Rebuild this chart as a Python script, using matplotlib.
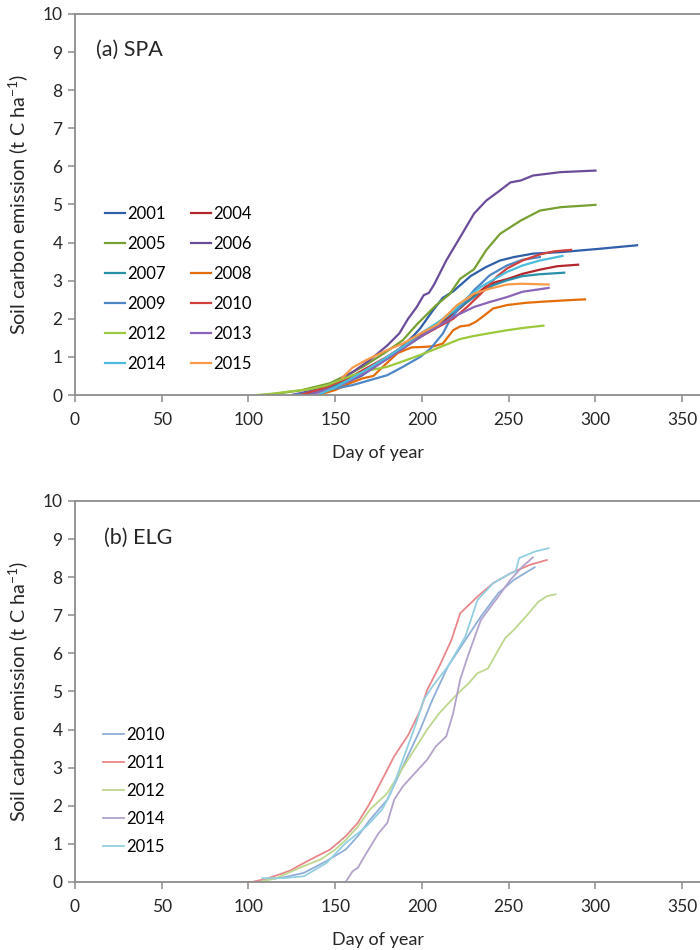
import numpy as np
import matplotlib
matplotlib.use("Agg")
import matplotlib.pyplot as plt

plt.rcParams['font.family'] = ['Lato', 'DejaVu Sans']
plt.rcParams['mathtext.fontset'] = 'custom'
plt.rcParams['mathtext.rm'] = 'Lato'
plt.rcParams['mathtext.it'] = 'Lato:italic'

# (a) SPA - day of year and cumulative soil carbon emission (t C/ha)
spa_2001_day = [130, 150, 165, 178, 188, 195, 199, 206, 212, 218, 228, 237, 245, 253, 264, 280, 303, 324]
spa_2001_val = [0.0, 0.2, 0.5, 0.9, 1.25, 1.55, 1.75, 2.2, 2.55, 2.72, 3.12, 3.36, 3.53, 3.62, 3.71, 3.75, 3.84, 3.93]
spa_2004_day = [130, 145, 160, 170, 180, 190, 200, 210, 220, 230, 237, 243, 249, 258, 268, 278, 290]
spa_2004_val = [0.0, 0.2, 0.5, 0.75, 1.0, 1.3, 1.6, 1.85, 2.2, 2.6, 2.85, 2.97, 3.04, 3.18, 3.29, 3.38, 3.42]
spa_2005_day = [110, 130, 147, 160, 166, 178, 189, 197, 208, 216, 222, 230, 237, 245, 257, 268, 280, 300]
spa_2005_val = [0.0, 0.12, 0.31, 0.6, 0.74, 1.09, 1.44, 1.85, 2.35, 2.65, 3.05, 3.3, 3.8, 4.23, 4.58, 4.84, 4.93, 4.99]
spa_2006_day = [125, 140, 152, 160, 170, 180, 187, 192, 197, 201, 204, 207, 214, 222, 230, 237, 245, 251, 257, 264, 280, 300]
spa_2006_val = [0.0, 0.15, 0.38, 0.6, 0.92, 1.3, 1.62, 2.0, 2.31, 2.62, 2.68, 2.9, 3.53, 4.14, 4.76, 5.10, 5.37, 5.58, 5.63, 5.76, 5.85, 5.89]
spa_2007_day = [130, 145, 160, 170, 180, 190, 200, 210, 218, 226, 234, 241, 249, 258, 268, 282]
spa_2007_val = [0.0, 0.15, 0.45, 0.7, 0.95, 1.25, 1.55, 1.9, 2.18, 2.44, 2.70, 2.88, 3.01, 3.12, 3.17, 3.21]
spa_2008_day = [140, 150, 158, 166, 172, 180, 186, 194, 200, 207, 212, 218, 222, 227, 231, 236, 241, 249, 260, 270, 285, 294]
spa_2008_val = [0.0, 0.13, 0.3, 0.44, 0.5, 0.85, 1.1, 1.25, 1.26, 1.28, 1.35, 1.70, 1.80, 1.83, 1.92, 2.09, 2.27, 2.36, 2.42, 2.45, 2.49, 2.51]
spa_2009_day = [126, 140, 150, 160, 170, 180, 189, 199, 205, 212, 216, 222, 230, 234, 239, 249, 258, 268]
spa_2009_val = [0.0, 0.1, 0.17, 0.26, 0.39, 0.52, 0.74, 1.0, 1.22, 1.61, 1.96, 2.31, 2.75, 2.92, 3.14, 3.40, 3.55, 3.62]
spa_2010_day = [130, 145, 160, 170, 180, 190, 200, 210, 218, 226, 234, 243, 249, 258, 268, 276, 286]
spa_2010_val = [0.0, 0.2, 0.5, 0.75, 1.0, 1.3, 1.55, 1.8, 2.0, 2.31, 2.66, 3.10, 3.32, 3.53, 3.69, 3.77, 3.81]
spa_2012_day = [105, 115, 125, 135, 145, 152, 160, 170, 180, 190, 199, 210, 222, 230, 240, 249, 260, 270]
spa_2012_val = [0.0, 0.04, 0.1, 0.15, 0.25, 0.38, 0.52, 0.65, 0.74, 0.9, 1.05, 1.25, 1.47, 1.55, 1.63, 1.70, 1.77, 1.82]
spa_2013_day = [135, 150, 160, 170, 180, 190, 200, 210, 220, 230, 239, 249, 258, 273]
spa_2013_val = [0.0, 0.2, 0.4, 0.65, 0.95, 1.25, 1.55, 1.83, 2.09, 2.31, 2.44, 2.57, 2.71, 2.81]
spa_2014_day = [140, 150, 160, 170, 180, 190, 199, 209, 218, 226, 234, 239, 249, 258, 268, 281]
spa_2014_val = [0.0, 0.2, 0.45, 0.72, 1.0, 1.3, 1.61, 1.9, 2.2, 2.55, 2.84, 2.97, 3.23, 3.40, 3.53, 3.65]
spa_2015_day = [154, 160, 168, 180, 189, 199, 209, 220, 230, 239, 249, 257, 273]
spa_2015_val = [0.45, 0.72, 0.92, 1.18, 1.35, 1.61, 1.85, 2.35, 2.66, 2.79, 2.90, 2.92, 2.90]

spa_years = ['2001', '2004', '2005', '2006', '2007', '2008',
             '2009', '2010', '2012', '2013', '2014', '2015']
spa_days = [spa_2001_day, spa_2004_day, spa_2005_day, spa_2006_day, spa_2007_day, spa_2008_day,
            spa_2009_day, spa_2010_day, spa_2012_day, spa_2013_day, spa_2014_day, spa_2015_day]
spa_vals = [spa_2001_val, spa_2004_val, spa_2005_val, spa_2006_val, spa_2007_val, spa_2008_val,
            spa_2009_val, spa_2010_val, spa_2012_val, spa_2013_val, spa_2014_val, spa_2015_val]
spa_colors = ['#2f5fa8', '#b3262c', '#77a033', '#6b4c9a', '#2a8fa8', '#e46c0a',
              '#4f86c6', '#d0403c', '#9bc83c', '#8a64b8', '#4bbcdc', '#f79a4a']

# (b) ELG
elg_2010_day = [108, 120, 132, 145, 156, 163, 170, 180, 189, 199, 206, 215, 225, 234, 244, 253, 265]
elg_2010_val = [0.05, 0.12, 0.24, 0.55, 0.85, 1.2, 1.63, 2.16, 3.03, 4.0, 4.78, 5.66, 6.35, 6.97, 7.58, 7.93, 8.26]
elg_2011_day = [96, 102, 110, 118, 124, 130, 137, 147, 156, 163, 170, 177, 184, 192, 199, 203, 210, 217, 222, 232, 241, 251, 262, 272]
elg_2011_val = [0.0, 0.0, 0.08, 0.2, 0.3, 0.45, 0.62, 0.85, 1.2, 1.55, 2.07, 2.68, 3.3, 3.85, 4.5, 5.04, 5.66, 6.35, 7.05, 7.49, 7.84, 8.10, 8.32, 8.45]
elg_2012_day = [108, 115, 123, 132, 142, 150, 156, 163, 170, 180, 189, 196, 203, 210, 219, 227, 232, 238, 244, 248, 253, 260, 267, 272, 277]
elg_2012_val = [0.03, 0.08, 0.24, 0.42, 0.6, 0.85, 1.1, 1.45, 1.9, 2.33, 3.0, 3.5, 4.0, 4.43, 4.87, 5.22, 5.48, 5.6, 6.09, 6.4, 6.62, 6.97, 7.35, 7.5, 7.55]
elg_2014_day = [156, 160, 163, 168, 175, 180, 184, 189, 196, 203, 208, 214, 218, 222, 227, 234, 244, 251, 258, 264]
elg_2014_val = [0.0, 0.28, 0.37, 0.76, 1.28, 1.55, 2.16, 2.51, 2.86, 3.21, 3.56, 3.82, 4.43, 5.31, 6.0, 6.88, 7.49, 7.93, 8.28, 8.52]
elg_2015_day = [108, 120, 132, 145, 156, 168, 177, 182, 189, 196, 201, 206, 215, 225, 232, 241, 251, 254, 256, 265, 273]
elg_2015_val = [0.1, 0.1, 0.15, 0.5, 1.02, 1.46, 1.9, 2.33, 3.21, 4.08, 4.78, 5.13, 5.66, 6.44, 7.40, 7.84, 8.10, 8.15, 8.50, 8.67, 8.76]

elg_years = ['2010', '2011', '2012', '2014', '2015']
elg_days = [elg_2010_day, elg_2011_day, elg_2012_day, elg_2014_day, elg_2015_day]
elg_vals = [elg_2010_val, elg_2011_val, elg_2012_val, elg_2014_val, elg_2015_val]
elg_colors = ['#8fafd8', '#e8878a', '#bed78f', '#b3a2cc', '#93cfe0']

axis_grey = '#8c8c8c'
text_col = '#262626'
tick_fs = 12.5
leg_fs = 12


def style_axes(ax):
    ax.set_xlim(0, 400)
    ax.set_ylim(0, 10)
    ax.set_xticks(np.arange(0, 401, 50))
    ax.set_yticks(np.arange(0, 11, 1))
    for s in ax.spines.values():
        s.set_color(axis_grey)
        s.set_linewidth(1.3)
    ax.tick_params(axis='both', direction='out', length=5, width=1.1,
                   color=axis_grey, labelsize=tick_fs, labelcolor=text_col)
    ax.tick_params(axis='x', pad=7)
    ax.tick_params(axis='y', pad=4)
    ax.set_ylabel('Soil carbon emission (t C ha$^{-1}$)', fontsize=14.2,
                  color=text_col, va='center')
    ax.yaxis.set_label_coords(-0.082, 0.5)
    ax.set_xlabel('Day of year', fontsize=13, color=text_col, va='center')
    ax.xaxis.set_label_coords(0.437, -0.151)


fig = plt.figure(figsize=(7, 9.5), dpi=100)
ax1 = fig.add_axes([0.1071, 0.5842, 0.9914, 0.4011])
ax2 = fig.add_axes([0.1071, 0.0716, 0.9914, 0.4011])

lines = []
for d, v, c in zip(spa_days, spa_vals, spa_colors):
    ln, = ax1.plot(d, v, color=c, lw=1.6)
    lines.append(ln)
style_axes(ax1)
ax1.text(0.031, 0.905, '(a) SPA', transform=ax1.transAxes, fontsize=15.5,
         color=text_col, va='center')
# legend is filled row by row, matplotlib fills columns -> reorder
order = [0, 2, 4, 6, 8, 10, 1, 3, 5, 7, 9, 11]
ax1.legend([lines[i] for i in order], [spa_years[i] for i in order],
           ncol=2, loc='upper left', bbox_to_anchor=(0.043, 0.497),
           frameon=False, fontsize=leg_fs, handlelength=1.2, handletextpad=0.12,
           columnspacing=1.55, labelspacing=0.84, borderpad=0, borderaxespad=0)

lines2 = []
for d, v, c in zip(elg_days, elg_vals, elg_colors):
    ln, = ax2.plot(d, v, color=c, lw=1.3)
    lines2.append(ln)
style_axes(ax2)
ax2.text(0.042, 0.903, '(b) ELG', transform=ax2.transAxes, fontsize=15.5,
         color=text_col, va='center')
ax2.legend(lines2, elg_years, loc='upper left', bbox_to_anchor=(0.04, 0.406),
           frameon=False, fontsize=leg_fs, handlelength=1.3, handletextpad=0.12,
           labelspacing=0.72, borderpad=0, borderaxespad=0)

fig.savefig('out.png', dpi=100)
